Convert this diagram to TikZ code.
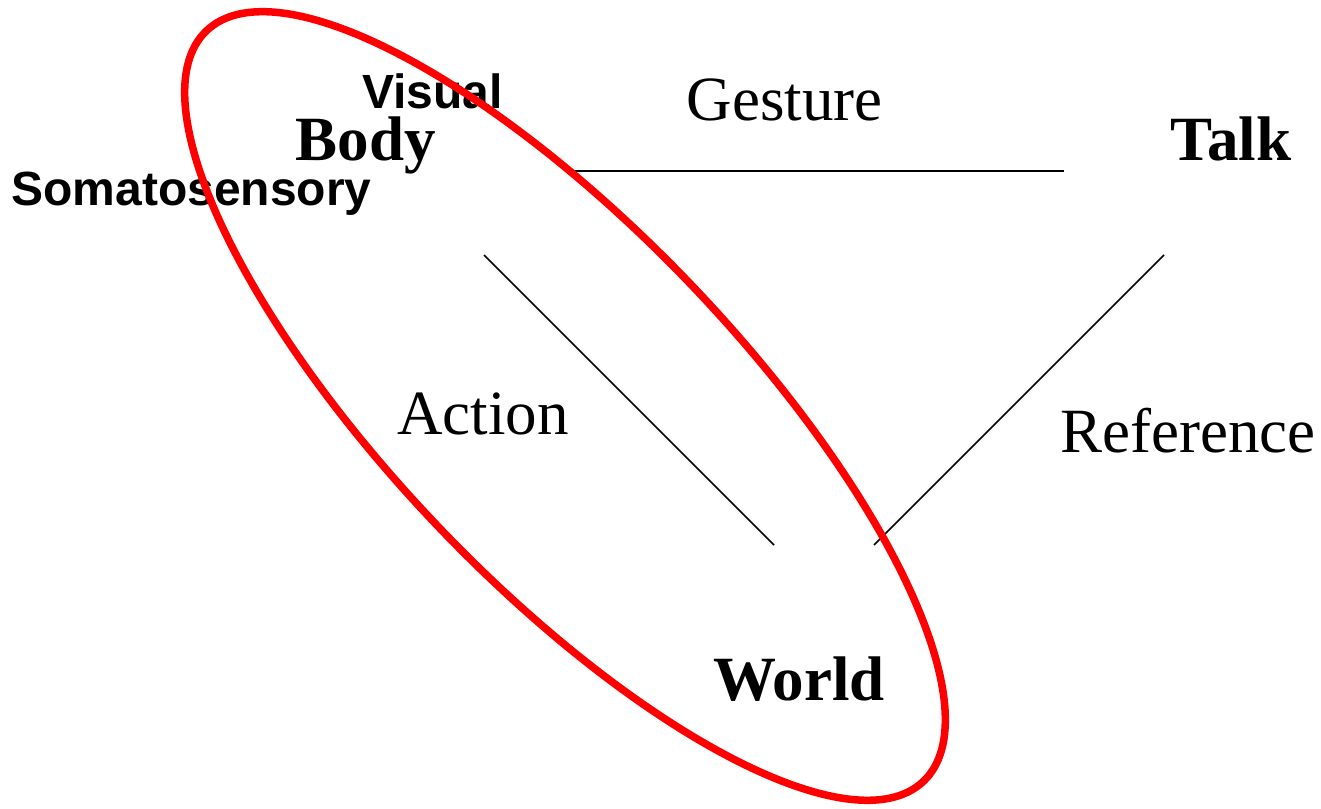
\documentclass[tikz,border=0pt]{standalone}
\usepackage{fontspec}
\setmainfont{Liberation Serif}
\newfontfamily\sensefont{Liberation Sans}
\usepackage{xcolor}
\usepackage{tikz}
\definecolor{loopred}{HTML}{FF0000}

\begin{document}
\begin{tikzpicture}[x=1pt, y=-1pt,
    vertex/.style={font=\fontsize{63}{63}\selectfont\bfseries, inner sep=0pt, anchor=base},
    relation/.style={font=\fontsize{63}{63}\selectfont, inner sep=0pt, anchor=base},
    sense/.style={font=\sensefont\fontsize{48}{48}\selectfont\bfseries, inner sep=0pt, anchor=base},
    link/.style={draw=black, line width=1.5pt}]
  \useasboundingbox (0,0) rectangle (1321,808);

  % the three corners
  \node[vertex] (body) at (366,160) {Body};
  \node[vertex] (talk) at (1231,160) {Talk};
  \node[vertex] (world) at (799,700) {World};

  \node[sense] (visual) at (432.5,108.5) {Visual};
  \node[sense] (soma) at (191.5,205) {Somatosensory};

  \node[relation] (gesture) at (784.5,120) {Gesture};
  \node[relation] (action) at (483,434) {Action};
  \node[relation] (reference) at (1188,452) {Reference};

  % ends of the sides
  \coordinate (bodyright) at (566,171);
  \coordinate (talkleft) at (1064,171);
  \coordinate (bodylow) at (484,255);
  \coordinate (worldleft) at (774,545);
  \coordinate (talklow) at (1164,255);
  \coordinate (worldright) at (874,545);

  \draw[link] (bodyright) -- (talkleft);
  \draw[link] (bodylow) -- (worldleft);
  \draw[link] (talklow) -- (worldright);

  % body and world grouped together
  \coordinate (loopmid) at (565,406);
  \draw[loopred, line width=7.5pt, rotate around={-46.3:(loopmid)}]
    (loopmid) ellipse [x radius=519pt, y radius=175pt];
\end{tikzpicture}
\end{document}
